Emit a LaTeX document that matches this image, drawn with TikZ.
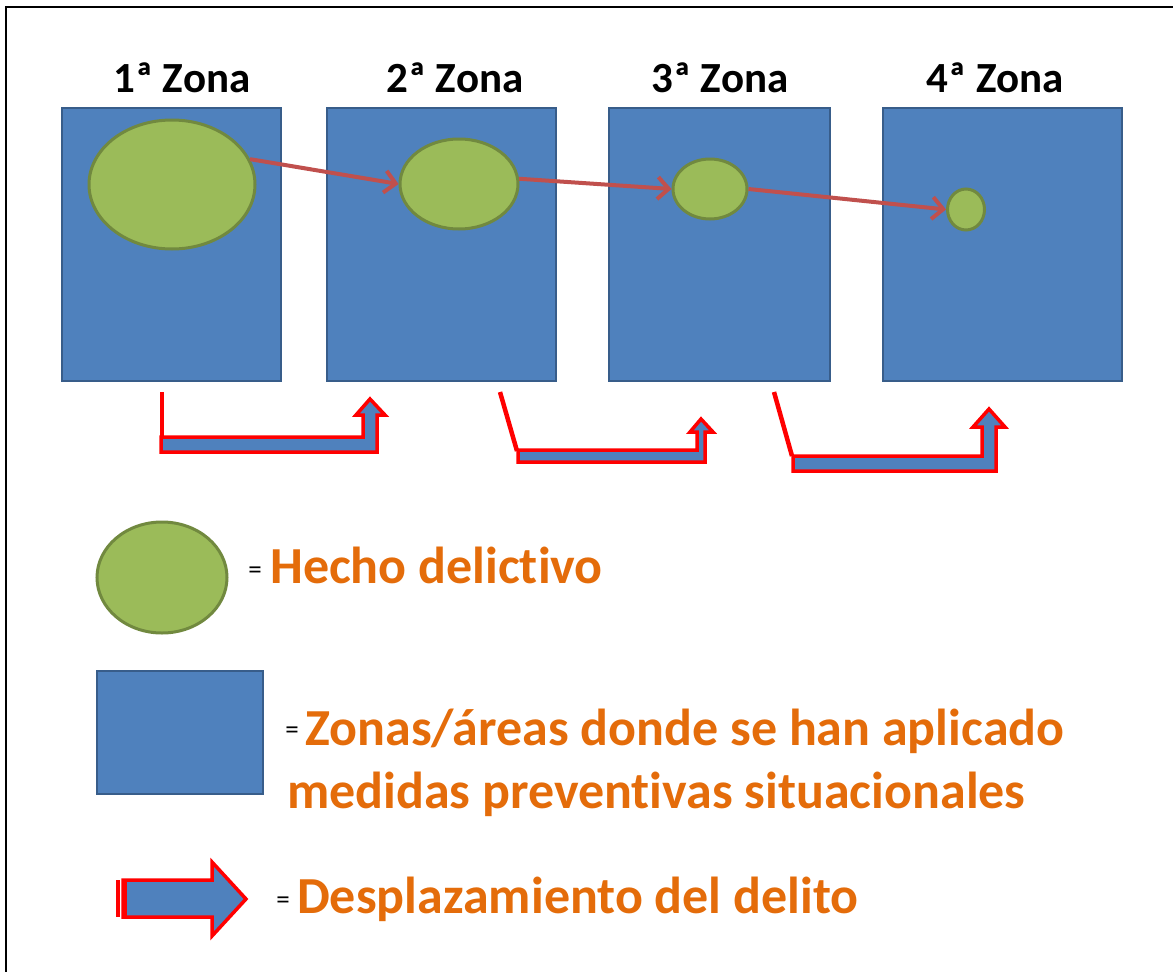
\documentclass[tikz,border=0pt]{standalone}
\usepackage{fontspec}
\setmainfont{Carlito}[Ligatures={NoCommon}]
\usetikzlibrary{shapes.geometric,arrows.meta}
\definecolor{zoneblue}{HTML}{4F81BD}
\definecolor{zoneedge}{HTML}{385D8A}
\definecolor{crimegreen}{HTML}{9BBB59}
\definecolor{crimeedge}{HTML}{71893F}
\definecolor{linkred}{HTML}{C0504D}
\definecolor{legendorange}{HTML}{E46C0A}
\definecolor{outlinered}{HTML}{FF0000}
\tikzset{
  zone/.style={draw=zoneedge, fill=zoneblue, line width=2.5pt, inner sep=0pt},
  crime/.style={ellipse, draw=crimeedge, fill=crimegreen, line width=3pt, inner sep=0pt},
  link/.style={draw=linkred, line width=4pt, -{Straight Barb[length=11pt,width=22pt,line width=4pt]}},
  bentarrow/.style={draw=outlinered, fill=zoneblue, line width=3.5pt, line join=miter},
  redline/.style={draw=outlinered, line width=4.5pt},
  zonetitle/.style={font=\fontsize{43}{50}\selectfont\bfseries, inner sep=0pt},
  legendtext/.style={font=\fontsize{52}{60}\selectfont\bfseries, text=legendorange, inner sep=0pt, anchor=base west},
  eqsign/.style={font=\fontsize{27}{30}\selectfont, inner sep=0pt}
}
\begin{document}
\begin{tikzpicture}[x=1pt,y=-1pt]
\useasboundingbox (0,0) rectangle (1173,972);
% frame
\draw[line width=2.5pt] (6,972) -- (6,7) -- (1173,7);
% zones
\node[zone, minimum width=219pt, minimum height=273pt] (z1) at (171.5,244.5) {};
\node[zone, minimum width=229pt, minimum height=273pt] (z2) at (441.5,244.5) {};
\node[zone, minimum width=221pt, minimum height=273pt] (z3) at (719.5,244.5) {};
\node[zone, minimum width=239pt, minimum height=273pt] (z4) at (1002.5,244.5) {};
% titles
\node[zonetitle] (t1) at (182,78) {1ª Zona};
\node[zonetitle] (t2) at (455,78) {2ª Zona};
\node[zonetitle] (t3) at (720,78) {3ª Zona};
\node[zonetitle] (t4) at (995,78) {4ª Zona};
% crimes
\node[crime, minimum width=166pt, minimum height=129pt] (e1) at (172,184.5) {};
\node[crime, minimum width=118pt, minimum height=90pt] (e2) at (459,184) {};
\node[crime, minimum width=74pt, minimum height=60pt] (e3) at (710,189) {};
\node[crime, minimum width=37pt, minimum height=41pt] (e4) at (966,209.5) {};
% links
\draw[link] (e1.18) -- (e2.west);
\draw[link] (e2.5) -- (e3.west);
\draw[link] (e3.east) -- (e4.west);
% bent arrows
\draw[redline] (162,392) -- (162,437);
\draw[bentarrow] (161,437) -- (363,437) -- (363,415) -- (356,415) -- (370,399) -- (385,415) -- (377,415) -- (377,452) -- (161,452) -- cycle;
\draw[redline] (500,392) -- (517,451);
\draw[bentarrow] (518,450) -- (697,450) -- (697,432) -- (690,432) -- (701,419) -- (713,432) -- (705,432) -- (705,462) -- (518,462) -- cycle;
\draw[redline] (774,392) -- (792,456);
\draw[bentarrow] (793,456) -- (982,456) -- (982,427) -- (973,427) -- (989,409) -- (1005,427) -- (996,427) -- (996,471) -- (793,471) -- cycle;
% legend
\node[crime, minimum width=130pt, minimum height=111pt] (lc) at (162,577.5) {};
\node[eqsign] (q1) at (255,573) {=};
\node[legendtext] (l1) at (270,583) {Hecho delictivo};
\node[zone, minimum width=166pt, minimum height=123pt] (lz) at (180,732.5) {};
\node[eqsign] (q2) at (292,733) {=};
\node[legendtext] (l2) at (305,745) {Zonas/áreas donde se han aplicado};
\node[legendtext] (l3) at (287,808) {medidas preventivas situacionales};
\fill[outlinered] (116,880) rectangle (120,917);
\draw[bentarrow] (123,880) -- (212,880) -- (212,862) -- (246,899) -- (212,936) -- (212,917) -- (123,917) -- cycle;
\draw[outlinered, line width=4pt] (125,880) -- (125,917);
\node[eqsign] (q3) at (283,903) {=};
\node[legendtext] (l4) at (297,913) {Desplazamiento del delito};
\end{tikzpicture}
\end{document}
